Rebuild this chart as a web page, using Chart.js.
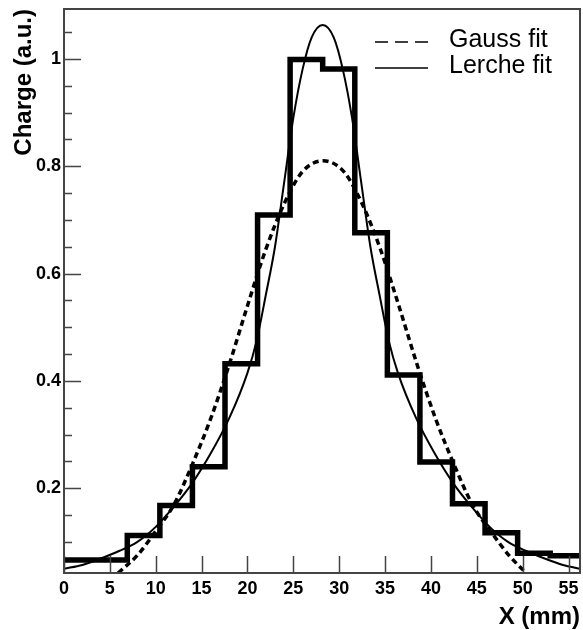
<!DOCTYPE html>
<html>

<head>
  <meta charset="UTF-8">
  <title>Charge profile</title>
  <style>
    body {
      margin: 0;
      background: #fff;
    }
  </style>
</head>

<script src="https://cdn.jsdelivr.net/npm/chart.js@4/dist/chart.umd.min.js"></script>

<body>

  <canvas id="profile" width="583" height="630"></canvas>

  <script>

    // histogram: bin edges (mm) and bin contents
    var histEdges = [-0.2, 3.35, 6.9, 10.45, 14.0, 17.55, 21.1, 24.65, 28.2, 31.7, 35.25, 38.8, 42.35, 45.9, 49.45, 53.0, 56.5];
    var histValues = [0.066, 0.066, 0.112, 0.168, 0.240, 0.432, 0.709, 0.999, 0.981, 0.676, 0.411, 0.249, 0.171, 0.117, 0.079, 0.074];

    // Gauss fit
    var gaussX = [5.9, 8, 10, 12, 14, 16, 18, 20, 22, 24, 26, 28.25, 30.5, 32.5, 34.5, 36.5, 38.5, 40.5, 42.5, 44.5, 46.5, 48.5, 50.2];
    var gaussY = [0.042, 0.075, 0.12, 0.17, 0.245, 0.33, 0.43, 0.54, 0.645, 0.73, 0.79, 0.81, 0.79, 0.73, 0.645, 0.54, 0.43, 0.33, 0.245, 0.17, 0.12, 0.075, 0.045];

    // Lerche fit
    var lercheX = [0, 2, 4, 6, 8, 10, 12, 14, 16, 18, 20, 21, 22, 23, 24, 25, 26, 27, 28.2, 29.4, 30.4, 31.4, 32.4, 33.4, 34.4, 35.4, 36.4, 38.4, 40.4, 42.4, 44.4, 46.4, 48.4, 50.4, 52.4, 54.4, 56.2];
    var lercheY = [0.05, 0.057, 0.069, 0.083, 0.10, 0.128, 0.166, 0.21, 0.265, 0.33, 0.415, 0.475, 0.56, 0.65, 0.77, 0.89, 0.98, 1.04, 1.063, 1.04, 0.98, 0.89, 0.77, 0.65, 0.56, 0.475, 0.415, 0.33, 0.265, 0.21, 0.166, 0.128, 0.10, 0.083, 0.069, 0.057, 0.05];

    // axis ticks
    var xTicks = [0, 5, 10, 15, 20, 25, 30, 35, 40, 45, 50, 55];
    var yTicks = [0.2, 0.4, 0.6, 0.8, 1];
    var yMinorTicks = [0.1, 0.15, 0.25, 0.3, 0.35, 0.45, 0.5, 0.55, 0.65, 0.7, 0.75, 0.85, 0.9, 0.95, 1.05];

    function toPoints(xs, ys) {
      var pts = [];
      for (var i = 0; i < ys.length; i++) {
        pts.push({ x: xs[i], y: ys[i] });
      }
      return pts;
    }

    // one point per left edge, plus the last right edge
    function histPoints() {
      var pts = toPoints(histEdges, histValues);
      pts.push({ x: histEdges[histEdges.length - 1], y: histValues[histValues.length - 1] });
      return pts;
    }

    Chart.defaults.font.family = "'Liberation Sans', Arial, sans-serif";
    Chart.defaults.color = "#000";

    // ROOT-like frame, inward ticks and legend box
    var rootStyle = {
      id: "rootStyle",
      afterDraw: function (chart) {
        var ctx = chart.ctx;
        var a = chart.chartArea;
        var xs = chart.scales.x;
        var ys = chart.scales.y;
        ctx.save();

        ctx.strokeStyle = "#444";
        ctx.lineWidth = 1.5;
        ctx.beginPath();
        yTicks.forEach(function (v) {
          var y = Math.round(ys.getPixelForValue(v)) + 0.5;
          ctx.moveTo(a.left, y); ctx.lineTo(a.left + 17, y);
        });
        yMinorTicks.forEach(function (v) {
          var y = Math.round(ys.getPixelForValue(v)) + 0.5;
          ctx.moveTo(a.left, y); ctx.lineTo(a.left + 8, y);
        });
        xTicks.forEach(function (v) {
          var x = Math.round(xs.getPixelForValue(v)) + 0.5;
          ctx.moveTo(x, a.bottom); ctx.lineTo(x, a.bottom - 17);
        });
        ctx.stroke();

        ctx.lineWidth = 2;
        ctx.strokeRect(a.left, a.top, a.right - a.left, a.bottom - a.top);

        // legend
        var gauss = chart.data.datasets[1];
        var lerche = chart.data.datasets[2];
        ctx.strokeStyle = "#000";
        ctx.lineWidth = 1.5;
        ctx.setLineDash([13, 7]);
        ctx.beginPath(); ctx.moveTo(375, 42); ctx.lineTo(428, 42); ctx.stroke();
        ctx.setLineDash([]);
        ctx.beginPath(); ctx.moveTo(375, 68); ctx.lineTo(428, 68); ctx.stroke();
        ctx.fillStyle = "#000";
        ctx.font = "25px 'Liberation Sans', Arial, sans-serif";
        ctx.textBaseline = "alphabetic";
        ctx.fillText(gauss.label, 449, 47);
        ctx.fillText(lerche.label, 449, 73);

        ctx.restore();
      }
    };

    new Chart("profile", {
      type: "line",
      data: {
        datasets: [
          {
            label: "Data",
            data: histPoints(),
            stepped: true,
            borderColor: "#000",
            borderWidth: 5.5,
            borderJoinStyle: "miter",
            pointRadius: 0,
            fill: false,
            clip: 0
          },
          {
            label: "Gauss fit",
            data: toPoints(gaussX, gaussY),
            borderColor: "#000",
            borderWidth: 3.5,
            borderDash: [6, 4],
            cubicInterpolationMode: "monotone",
            pointRadius: 0,
            fill: false,
            clip: 0
          },
          {
            label: "Lerche fit",
            data: toPoints(lercheX, lercheY),
            borderColor: "#000",
            borderWidth: 2,
            cubicInterpolationMode: "monotone",
            pointRadius: 0,
            fill: false,
            clip: 0
          }
        ]
      },
      options: {
        responsive: false,
        animation: false,
        layout: { padding: { top: 9, right: 3, left: 0, bottom: 0 } },
        plugins: {
          legend: { display: false },
          tooltip: { enabled: false }
        },
        scales: {
          x: {
            type: "linear",
            min: 0,
            max: 56.25,
            grid: { display: false, drawTicks: false },
            border: { display: false },
            afterBuildTicks: function (s) { s.ticks = xTicks.map(function (v) { return { value: v }; }); },
            afterFit: function (s) { s.height = 57; s.paddingLeft = 0; s.paddingRight = 0; },
            ticks: {
              autoSkip: false,
              maxRotation: 0,
              padding: 5,
              font: { size: 18, weight: "bold" },
              callback: function (v) { return String(v); }
            },
            title: {
              display: true,
              text: "X (mm)",
              align: "end",
              font: { size: 24, weight: "bold" },
              padding: { top: 0, bottom: -2 }
            }
          },
          y: {
            type: "linear",
            min: 0.042,
            max: 1.093,
            grid: { display: false, drawTicks: false },
            border: { display: false },
            afterBuildTicks: function (s) { s.ticks = yTicks.map(function (v) { return { value: v }; }); },
            afterFit: function (s) { s.width = 64; s.paddingTop = 0; s.paddingBottom = 0; },
            ticks: {
              padding: 3,
              font: { size: 18, weight: "bold" },
              callback: function (v) { return String(v); }
            },
            title: {
              display: true,
              text: "Charge (a.u.)",
              align: "end",
              font: { size: 24, weight: "bold" },
              padding: { top: 10, bottom: 0 }
            }
          }
        }
      },
      plugins: [rootStyle]
    });

  </script>

</body>

</html>
